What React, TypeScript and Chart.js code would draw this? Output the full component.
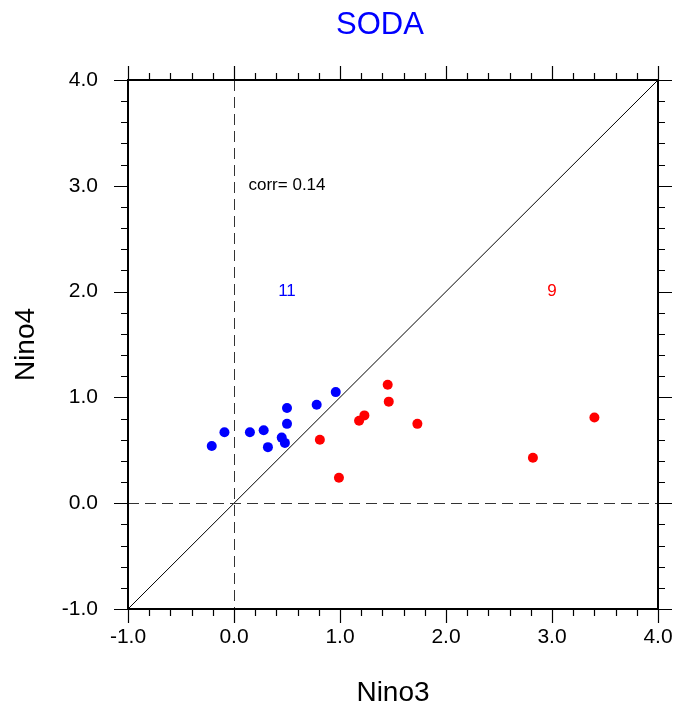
import React, { useEffect, useRef } from "react";
import { Chart, registerables } from "chart.js";

Chart.register(...registerables);

const titleText = "SODA";
const xTitle = "Nino3";
const yTitle = "Nino4";
const axisMin = -1;
const axisMax = 4;
const majorTicks = [-1, 0, 1, 2, 3, 4];
const minorStep = 0.2;

const blueX = [-0.21, -0.09, 0.15, 0.28, 0.32, 0.45, 0.48, 0.5, 0.5, 0.78, 0.96];
const blueY = [0.54, 0.67, 0.67, 0.69, 0.53, 0.62, 0.57, 0.75, 0.9, 0.93, 1.05];
const redX = [1.45, 1.46, 1.23, 1.18, 1.73, 0.81, 0.99, 3.4, 2.82];
const redY = [1.12, 0.96, 0.83, 0.78, 0.75, 0.6, 0.24, 0.81, 0.43];

const corrLabel = "corr= 0.14";
const corrPos = [0.5, 3.0];
const blueCount = "11";
const blueCountPos = [0.5, 2.0];
const redCount = "9";
const redCountPos = [3.0, 2.0];

const FONT = "'Liberation Sans', Arial, Helvetica, sans-serif";

const decorPlugin = {
  id: "decor",
  beforeDatasetsDraw(chart: any) {
    const { ctx, chartArea: a } = chart;
    const xs = chart.scales.x;
    const ys = chart.scales.y;
    ctx.save();
    ctx.beginPath();
    ctx.rect(a.left, a.top, a.right - a.left, a.bottom - a.top);
    ctx.clip();
    ctx.strokeStyle = "#000";
    ctx.lineWidth = 1;
    ctx.beginPath();
    ctx.moveTo(xs.getPixelForValue(axisMin), ys.getPixelForValue(axisMin));
    ctx.lineTo(xs.getPixelForValue(axisMax), ys.getPixelForValue(axisMax));
    ctx.stroke();
    ctx.strokeStyle = "#333";
    ctx.setLineDash([11, 6]);
    const x0 = Math.round(xs.getPixelForValue(0)) + 0.5;
    const y0 = Math.round(ys.getPixelForValue(0)) + 0.5;
    ctx.beginPath();
    ctx.moveTo(x0, a.top);
    ctx.lineTo(x0, a.bottom);
    ctx.stroke();
    ctx.beginPath();
    ctx.moveTo(a.left, y0);
    ctx.lineTo(a.right, y0);
    ctx.stroke();
    ctx.restore();
  },
  afterDraw(chart: any) {
    const { ctx, chartArea: a } = chart;
    const xs = chart.scales.x;
    const ys = chart.scales.y;
    ctx.save();
    ctx.strokeStyle = "#000";
    ctx.lineWidth = 1.2;
    const majLen = 14;
    const minLen = 7;
    const n = Math.round((axisMax - axisMin) / minorStep);
    for (let i = 0; i <= n; i++) {
      const v = axisMin + i * minorStep;
      const isMajor = majorTicks.some((m) => Math.abs(m - v) < 1e-6);
      const len = isMajor ? majLen : minLen;
      const px = Math.round(xs.getPixelForValue(v)) + 0.5;
      const py = Math.round(ys.getPixelForValue(v)) + 0.5;
      ctx.beginPath();
      ctx.moveTo(px, a.bottom);
      ctx.lineTo(px, a.bottom + len);
      ctx.moveTo(px, a.top);
      ctx.lineTo(px, a.top - len);
      ctx.moveTo(a.left, py);
      ctx.lineTo(a.left - len, py);
      ctx.moveTo(a.right, py);
      ctx.lineTo(a.right + len, py);
      ctx.stroke();
    }
    ctx.lineWidth = 2;
    ctx.strokeRect(a.left, a.top, a.right - a.left, a.bottom - a.top);

    ctx.fillStyle = "#000";
    ctx.font = `21px ${FONT}`;
    ctx.textAlign = "center";
    ctx.textBaseline = "middle";
    majorTicks.forEach((m) => {
      ctx.fillText(m.toFixed(1), xs.getPixelForValue(m), a.bottom + 28);
    });
    ctx.textAlign = "right";
    majorTicks.forEach((m) => {
      ctx.fillText(m.toFixed(1), a.left - 30, ys.getPixelForValue(m));
    });

    ctx.font = `28px ${FONT}`;
    ctx.textAlign = "center";
    ctx.textBaseline = "alphabetic";
    ctx.fillText(xTitle, (a.left + a.right) / 2, 701);
    ctx.save();
    ctx.translate(34, (a.top + a.bottom) / 2);
    ctx.rotate(-Math.PI / 2);
    ctx.fillText(yTitle, 0, 0);
    ctx.restore();

    ctx.fillStyle = "#0000ff";
    ctx.font = `31px ${FONT}`;
    ctx.fillText(titleText, (a.left + a.right) / 2 - 13, 34);

    ctx.textBaseline = "middle";
    ctx.font = `17px ${FONT}`;
    ctx.fillStyle = "#000";
    ctx.fillText(corrLabel, xs.getPixelForValue(corrPos[0]), ys.getPixelForValue(corrPos[1]));
    ctx.fillStyle = "#0000ff";
    ctx.fillText(blueCount, xs.getPixelForValue(blueCountPos[0]), ys.getPixelForValue(blueCountPos[1]));
    ctx.fillStyle = "#ff0000";
    ctx.fillText(redCount, xs.getPixelForValue(redCountPos[0]), ys.getPixelForValue(redCountPos[1]));
    ctx.restore();
  },
};

export default function App() {
  const ref = useRef<HTMLCanvasElement>(null);
  useEffect(() => {
    document.body.style.margin = "0";
    const chart = new Chart(ref.current!, {
      type: "scatter",
      data: {
        datasets: [
          {
            label: "blue",
            data: blueX.map((x, i) => ({ x, y: blueY[i] })),
            backgroundColor: "#0000ff",
            borderWidth: 0,
            pointRadius: 5,
          },
          {
            label: "red",
            data: redX.map((x, i) => ({ x, y: redY[i] })),
            backgroundColor: "#ff0000",
            borderWidth: 0,
            pointRadius: 5,
          },
        ],
      },
      options: {
        responsive: false,
        animation: false,
        layout: { padding: { left: 128, right: 21, top: 80, bottom: 99 } },
        plugins: { legend: { display: false }, tooltip: { enabled: false }, title: { display: false } },
        scales: {
          x: { type: "linear", min: axisMin, max: axisMax, display: false },
          y: { type: "linear", min: axisMin, max: axisMax, display: false },
        },
      },
      plugins: [decorPlugin],
    });
    return () => chart.destroy();
  }, []);
  return <canvas ref={ref} width={679} height={708} style={{ display: "block" }} />;
}
